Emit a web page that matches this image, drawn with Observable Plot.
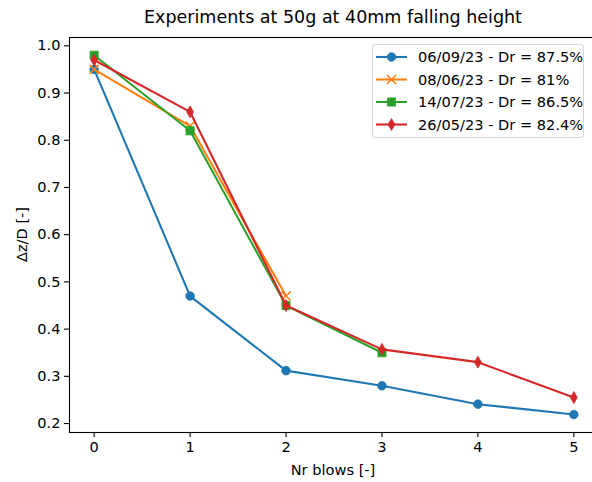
<!DOCTYPE html>
<html>
<head>
<meta charset="utf-8">
<script src="https://cdn.jsdelivr.net/npm/d3@7"></script>
<script src="https://cdn.jsdelivr.net/npm/@observablehq/plot@0.6"></script>
<style>
  html, body { margin: 0; padding: 0; background: #fff; }
  #chart { position: relative; width: 592px; height: 482px; overflow: hidden; font-family: "DejaVu Sans", sans-serif; color: #000; }
  #title { position: absolute; left: 0; top: 7px; width: 666px; text-align: center; font-size: 17.5px; z-index: 2; }
  #legend { position: absolute; left: 372px; top: 44px; width: 212px; height: 94px; box-sizing: border-box;
            border: 1px solid #d6d6d6; border-radius: 3px; background: rgba(255,255,255,0.8); }
  #chart svg { display: block; }
</style>
</head>
<body>
<div id="chart">
  <div id="title">Experiments at 50g at 40mm falling height</div>
</div>
<script>
// Number of blows applied
const blows = [0, 1, 2, 3, 4, 5];

// Normalised settlement Δz/D per test (one value per blow)
const test0609 = [0.95, 0.47, 0.312, 0.28, 0.241, 0.219];
const test0806 = [0.95, 0.83, 0.47];
const test1407 = [0.98, 0.82, 0.45, 0.35];
const test2605 = [0.97, 0.86, 0.45, 0.357, 0.33, 0.255];

const seriesLabels = [
  "06/09/23 - Dr = 87.5%",
  "08/06/23 - Dr = 81%",
  "14/07/23 - Dr = 86.5%",
  "26/05/23 - Dr = 82.4%"
];
const seriesColors = ["#1f77b4", "#ff7f0e", "#2ca02c", "#d62728"];
const seriesSymbols = ["circle", "times", "square", "diamond"];
const seriesRadius = [4.3, 4.2, 4.6, 3.6];

const yTicks = [0.2, 0.3, 0.4, 0.5, 0.6, 0.7, 0.8, 0.9, 1.0];
const xTicks = [0, 1, 2, 3, 4, 5];

const FS = 14.6;

const seriesValues = [test0609, test0806, test1407, test2605];
const series = seriesValues.map((vals, i) =>
  vals.map((v, j) => ({x: blows[j], y: v, k: i}))
);

const marks = [];
series.forEach((rows, i) => {
  marks.push(Plot.line(rows, {x: "x", y: "y", stroke: seriesColors[i], strokeWidth: 2.1}));
  const stroked = seriesSymbols[i] === "times";
  marks.push(Plot.dot(rows, {
    x: "x", y: "y", symbol: () => seriesSymbols[i], r: seriesRadius[i],
    fill: stroked ? "none" : seriesColors[i],
    stroke: seriesColors[i], strokeWidth: stroked ? 1.5 : 0.8
  }));
});

const plot = Plot.plot({
  width: 592,
  height: 482,
  marginTop: 37,
  marginBottom: 50,
  marginLeft: 69,
  marginRight: -6,
  style: {fontFamily: "DejaVu Sans, sans-serif", fontSize: FS + "px", color: "#000", background: "#fff", overflow: "hidden"},
  x: {domain: [-0.257, 5.257], label: null},
  y: {domain: [0.181, 1.0176], label: null},
  marks: [
    Plot.axisX({ticks: xTicks, tickFormat: d3.format("d"), tickSize: 5, tickPadding: 4, fontSize: FS, stroke: "#000", strokeWidth: 1.1, strokeOpacity: 1, label: null}),
    Plot.axisY({ticks: yTicks, tickFormat: d3.format(".1f"), tickSize: 5, tickPadding: 4, fontSize: FS, stroke: "#000", strokeWidth: 1.1, strokeOpacity: 1, label: null}),
    ...marks,
    Plot.frame({stroke: "#000", strokeWidth: 1.1})
  ]
});

const chart = document.getElementById("chart");
chart.appendChild(plot);

// Axis titles placed around the frame
const svg = d3.select(plot);
svg.append("text")
  .attr("x", 333).attr("y", 475)
  .attr("text-anchor", "middle")
  .attr("font-size", FS).attr("fill", "#000")
  .text("Nr blows [-]");
svg.append("text")
  .attr("transform", "translate(27,234.5) rotate(-90)")
  .attr("text-anchor", "middle")
  .attr("font-size", FS).attr("fill", "#000")
  .text("Δz/D [-]");

// Legend box with line + marker handles
const legend = d3.select(chart).append("div").attr("id", "legend");
const lsvg = legend.append("svg").attr("width", 212).attr("height", 94)
  .style("position", "absolute").style("left", "-1px").style("top", "-1px");
const rowY = [13, 35.5, 58, 80.5];
seriesLabels.forEach((label, i) => {
  const g = lsvg.append("g").attr("transform", `translate(0,${rowY[i]})`);
  g.append("line").attr("x1", 4).attr("x2", 35).attr("y1", 0).attr("y2", 0)
    .attr("stroke", seriesColors[i]).attr("stroke-width", 2.1);
  const r = seriesRadius[i];
  const symType = {circle: d3.symbolCircle, times: d3.symbolTimes, square: d3.symbolSquare, diamond: d3.symbolDiamond}[seriesSymbols[i]];
  const stroked = seriesSymbols[i] === "times";
  g.append("path")
    .attr("transform", "translate(19.5,0)")
    .attr("d", d3.symbol(symType, Math.PI * r * r)())
    .attr("fill", stroked ? "none" : seriesColors[i])
    .attr("stroke", seriesColors[i])
    .attr("stroke-width", stroked ? 1.5 : 0.8);
  g.append("text").attr("x", 46).attr("y", 0).attr("dy", "0.35em")
    .attr("font-family", "DejaVu Sans, sans-serif").attr("font-size", FS).attr("fill", "#000")
    .text(label);
});
</script>
</body>
</html>
